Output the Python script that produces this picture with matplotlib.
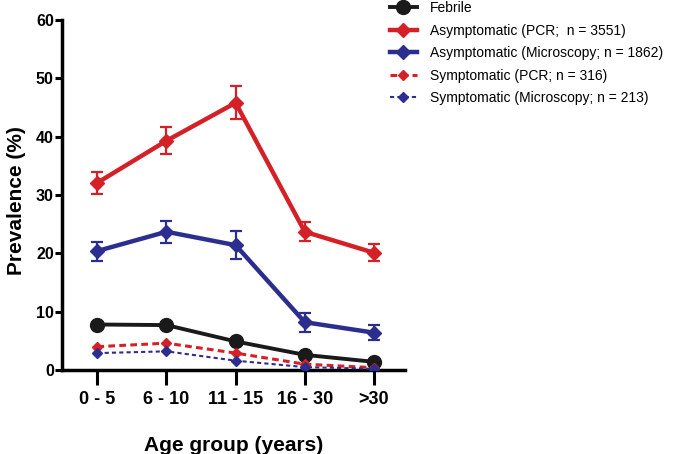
import matplotlib
matplotlib.use("Agg")
import matplotlib.pyplot as plt

plt.rcParams["font.family"] = ["Liberation Sans", "DejaVu Sans"]

age_groups = ["0 - 5", "6 - 10", "11 - 15", "16 - 30", ">30"]

febrile = [7.8, 7.7, 4.9, 2.6, 1.4]

asym_pcr = [32.1, 39.3, 45.8, 23.7, 20.1]
asym_pcr_lo = [30.2, 37.0, 43.1, 22.1, 18.7]
asym_pcr_hi = [34.0, 41.6, 48.6, 25.4, 21.6]

asym_mic = [20.4, 23.7, 21.4, 8.2, 6.4]
asym_mic_lo = [18.7, 21.8, 19.0, 6.5, 5.1]
asym_mic_hi = [22.0, 25.6, 23.8, 9.8, 7.7]

sym_pcr = [4.0, 4.6, 2.9, 1.0, 0.4]
sym_mic = [2.9, 3.2, 1.6, 0.5, 0.2]

red = "#d42027"
blue = "#2b2e8f"
black = "#1a1a1a"

fig = plt.figure(figsize=(6.75, 4.54), dpi=100)
ax = fig.add_axes([0.092, 0.185, 0.508, 0.771])
x = list(range(len(age_groups)))

def err(v, lo, hi):
    return [[a - b for a, b in zip(v, lo)], [c - a for a, c in zip(v, hi)]]

h_feb, = ax.plot(x, febrile, color=black, lw=2.8, marker="o", ms=10, zorder=4)
c_pcr = ax.errorbar(x, asym_pcr, yerr=err(asym_pcr, asym_pcr_lo, asym_pcr_hi), color=red,
                    lw=3.2, marker="D", ms=7, capsize=4.5, elinewidth=1.6, capthick=1.6,
                    zorder=3)
c_mic = ax.errorbar(x, asym_mic, yerr=err(asym_mic, asym_mic_lo, asym_mic_hi), color=blue,
                    lw=3.2, marker="D", ms=7, capsize=4.5, elinewidth=1.6, capthick=1.6,
                    zorder=3)
h_spcr, = ax.plot(x, sym_pcr, color=red, lw=2.2, ls=(0, (2.2, 1.4)), marker="D", ms=5.5,
                  zorder=5)
h_smic, = ax.plot(x, sym_mic, color=blue, lw=1.5, ls=(0, (2, 1.5)), marker="D", ms=5.5,
                  zorder=5)

ax.set_xlim(-0.51, 4.45)
ax.set_ylim(0, 60)
ax.set_yticks([0, 10, 20, 30, 40, 50, 60])
ax.set_xticks(x)
ax.set_xticklabels(age_groups)

for s in ["top", "right"]:
    ax.spines[s].set_visible(False)
ax.spines["left"].set_linewidth(2.5)
ax.spines["bottom"].set_linewidth(2.5)
ax.tick_params(axis="y", length=5, width=2.2, labelsize=11.5, pad=1)
ax.tick_params(axis="x", length=11, width=2.2, labelsize=13, pad=4)
for lab in ax.get_xticklabels() + ax.get_yticklabels():
    lab.set_fontweight("bold")

ax.set_ylabel("Prevalence (%)", fontsize=15, fontweight="bold")
ax.yaxis.set_label_coords(-0.105, 0.485)
ax.set_xlabel("Age group (years)", fontsize=15, fontweight="bold", labelpad=20)

handles = [h_feb, c_pcr[0], c_mic[0], h_spcr, h_smic]
labels = ["Febrile", "Asymptomatic (PCR;  n = 3551)", "Asymptomatic (Microscopy; n = 1862)",
          "Symptomatic (PCR; n = 316)", "Symptomatic (Microscopy; n = 213)"]
ax.legend(handles, labels, loc="upper left", bbox_to_anchor=(0.578, 0.998),
          bbox_transform=fig.transFigure, frameon=False, fontsize=10,
          handlelength=1.9, labelspacing=0.62, handletextpad=0.95,
          borderpad=0, borderaxespad=0)

fig.savefig("out.png", dpi=100)
